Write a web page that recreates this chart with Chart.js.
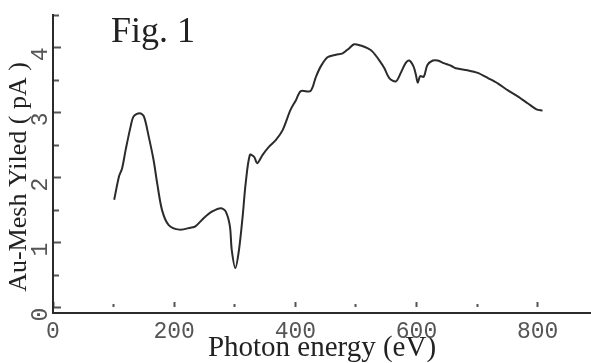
<!DOCTYPE html>
<html>
<head>
<meta charset="utf-8">
<script src="https://cdn.jsdelivr.net/npm/chart.js@4"></script>
<style>
  html, body { margin: 0; background: #fff; }
  #wrap { width: 591px; height: 363px; }
</style>
</head>
<body>
<div id="wrap"><canvas id="chart" width="591" height="363"></canvas></div>
<script>
// ── Data ────────────────────────────────────────────────────────────────────
const photonEnergy = [
  101, 109, 114, 120, 128, 133, 143, 150, 158, 166, 172, 180, 191, 209, 227,
  235, 249, 263, 277, 285, 292, 295, 301, 307, 313, 318, 325, 332, 337, 346,
  357, 368, 379, 392, 401, 409, 425, 434, 442, 453, 467, 478, 489, 497, 508,
  519, 527, 538, 547, 555, 566, 574, 582, 588, 595, 599, 602, 606, 612, 618,
  627, 635, 645, 657, 665, 684, 701, 718, 734, 751, 767, 784, 798, 808
];
const meshYield = [
  1.66, 2.02, 2.14, 2.43, 2.78, 2.94, 2.99, 2.94, 2.63, 2.27, 1.91, 1.50, 1.27, 1.20, 1.23,
  1.25, 1.38, 1.48, 1.53, 1.48, 1.25, 0.89, 0.61, 0.89, 1.40, 1.91, 2.35, 2.32, 2.22, 2.35,
  2.48, 2.58, 2.73, 3.04, 3.19, 3.33, 3.33, 3.55, 3.71, 3.85, 3.89, 3.91, 3.99, 4.05, 4.03,
  3.99, 3.94, 3.81, 3.68, 3.53, 3.48, 3.61, 3.76, 3.80, 3.71, 3.58, 3.46, 3.56, 3.55, 3.73,
  3.80, 3.80, 3.76, 3.72, 3.68, 3.65, 3.61, 3.53, 3.45, 3.34, 3.25, 3.14, 3.05, 3.03
];

// axis ranges / tick steps
const xRange = [0, 888];
const yRange = [-0.082, 4.5];
const xStep = 100;
const yStep = 0.5;

const INK = "#2b2b2b";
const TICK_INK = "#555";
const TICK_FONT = { family: "Liberation Mono", size: 23 };
const SERIF = "Liberation Serif";

// ── "Fig. 1" caption, drawn inside the frame ────────────────────────────────
const figLabel = {
  id: "figLabel",
  afterDraw(chart) {
    const ctx = chart.ctx;
    ctx.save();
    ctx.font = `36px "${SERIF}"`;
    ctx.fillStyle = "#222";
    ctx.textBaseline = "alphabetic";
    ctx.fillText("Fig. 1", 111, 42);
    ctx.restore();
  },
};

// the scanned frame is fixed, so pin each axis box and drop label padding
function pinAxis(size) {
  return (s) => {
    if (s.isHorizontal()) s.height = size; else s.width = size;
    s.paddingTop = 0;
    s.paddingBottom = 0;
    s.paddingLeft = 0;
    s.paddingRight = 0;
  };
}

new Chart(document.getElementById("chart"), {
  type: "line",
  data: {
    datasets: [{
      data: photonEnergy.map((e, i) => ({ x: e, y: meshYield[i] })),
      borderColor: INK,
      borderWidth: 2,
      pointRadius: 0,
      tension: 0.3,
      fill: false,
    }],
  },
  options: {
    responsive: false,
    animation: false,
    layout: { padding: { top: 15, right: 0, bottom: 0, left: 0 } },
    plugins: { legend: { display: false }, tooltip: { enabled: false } },
    scales: {
      x: {
        type: "linear",
        min: xRange[0],
        max: xRange[1],
        afterFit: pinAxis(50),
        border: { color: INK, width: 2 },
        grid: {
          drawOnChartArea: false,
          tickLength: -13,
          tickWidth: 2,
          tickColor: TICK_INK,
          // ticks float a little above the axis line; big ones every 200
          tickBorderDash: (c) => (c.tick && c.tick.value % 200 === 0) ? [0, 7, 5, 100] : [0, 7, 3, 100],
        },
        ticks: {
          stepSize: xStep,
          includeBounds: false,
          autoSkip: false,
          maxRotation: 0,
          padding: 18,
          color: TICK_INK,
          font: TICK_FONT,
          callback: (v) => (v % 200 === 0 ? String(v) : ""),
        },
        title: {
          display: true,
          text: "Photon energy (eV)",
          color: "#222",
          font: { family: SERIF, size: 29, lineHeight: 1 },
          padding: { top: 0, bottom: 0 },
        },
      },
      y: {
        min: yRange[0],
        max: yRange[1],
        afterFit: pinAxis(53),
        border: { color: INK, width: 2 },
        grid: {
          drawOnChartArea: false,
          tickLength: -8,
          tickWidth: 2,
          tickColor: TICK_INK,
          tickBorderDash: (c) => (c.tick && Number.isInteger(c.tick.value)) ? [] : [0, 2, 6, 100],
        },
        ticks: {
          stepSize: yStep,
          includeBounds: false,
          autoSkip: false,
          minRotation: 90,
          maxRotation: 90,
          padding: 20,
          color: TICK_INK,
          font: TICK_FONT,
          callback: (v) => (Number.isInteger(v) ? String(v) : ""),
        },
        title: {
          display: true,
          text: "Au-Mesh Yiled ( pA )    ",
          color: "#222",
          font: { family: SERIF, size: 26, lineHeight: 1 },
          padding: { top: 6, bottom: 0 },
        },
      },
    },
  },
  plugins: [figLabel],
});
</script>
</body>
</html>
